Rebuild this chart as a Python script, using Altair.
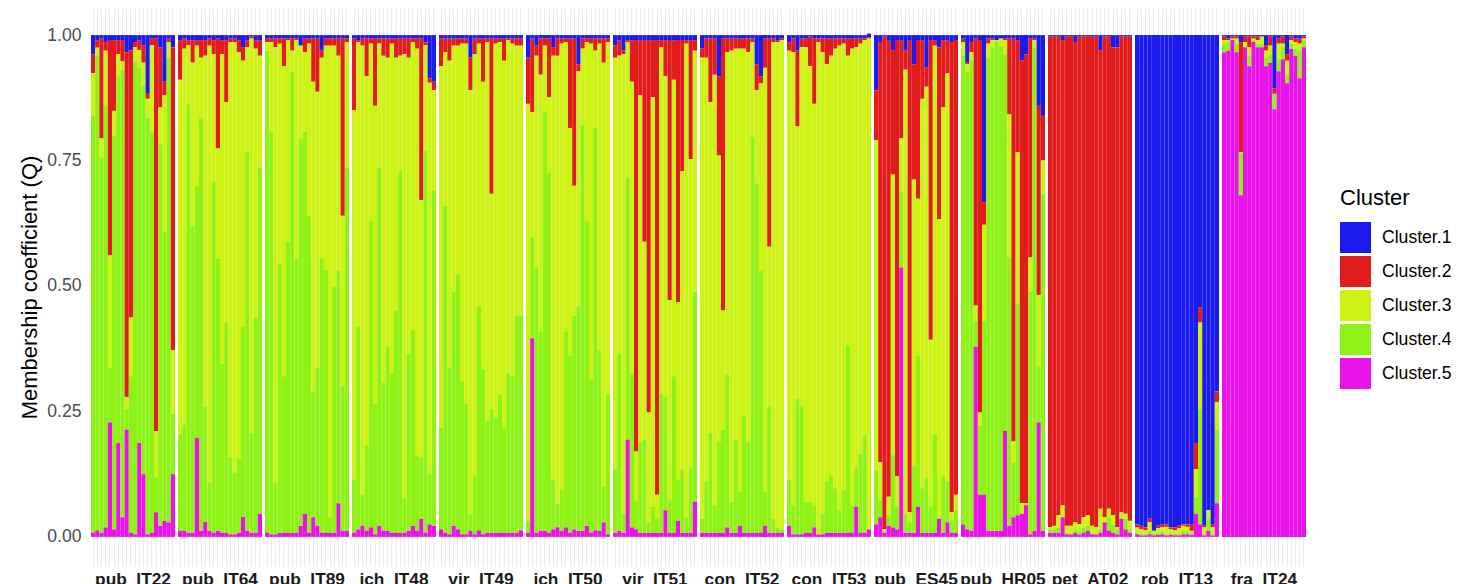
import altair as alt
import pandas as pd
import numpy as np

populations = ["pub_IT22", "pub_IT64", "pub_IT89", "ich_IT48", "vir_IT49", "ich_IT50", "vir_IT51",
               "con_IT52", "con_IT53", "pub_ES45", "pub_HR05", "pet_AT02", "rob_IT13", "fra_IT24"]
clusters = ["Cluster.1", "Cluster.2", "Cluster.3", "Cluster.4", "Cluster.5"]
cluster_colors = ["#1b1bf0", "#e01c1c", "#cdf216", "#8ef216", "#e813e8"]
inds_per_pop = 20

# Cumulative membership (stack from the bottom: Cluster.5, .4, .3, .2, .1)
# top of Cluster.2 (= 1 - Q1)
top_c2 = [
    .962, .99, .993, .986, .99, .99, .99, .99, .966, .97, .986, .99, .979, .883, .993, .993, .976, .907, .993, .976,   # pub_IT22
    .99, .993, .99, .99, .99, .99, .99, .993, .99, .993, .99, .99, .993, .993, .99, .976, .99, .997, .99, .99,         # pub_IT64
    .993, .993, .993, .993, .993, .993, .993, .993, .979, .993, .993, .993, .993, .969, .993, .993, .993, .993, .993, .993,  # pub_IT89
    .993, .99, .993, .993, .993, .993, .993, .993, .993, .993, .993, .993, .993, .993, .993, .993, .993, .986, .914, .907,  # ich_IT48
    .993, .993, .993, .993, .993, .993, .993, .955, .993, .993, .993, .993, .993, .993, .993, .993, .993, .993, .993, .993,  # vir_IT49
    .955, .993, .979, .993, .993, .993, .976, .993, .993, .993, .993, .993, .942, .993, .993, .993, .993, .993, .993, .993,  # ich_IT50
    .979, .99, .969, .99, .99, .99, .99, .99, .99, .99, .99, .99, .99, .99, .99, .99, .99, .99, .99, .99,                  # vir_IT51
    .973, .993, .993, .993, .918, .993, .993, .993, .993, .993, .993, .993, .993, .942, .918, .993, .993, .993, .99, .993,  # con_IT52
    .986, .993, .969, .993, .993, .997, .993, .993, .993, .993, .993, .993, .993, .993, .993, .993, .993, .993, .993, .993,  # con_IT53
    .89, .986, .997, .99, .969, .99, .99, .969, .99, .942, .99, .99, .935, .99, .99, .976, .99, .99, .986, .99,          # pub_ES45
    .993, .945, .986, .993, .99, .667, .993, .993, .99, .993, .993, .993, .993, .99, .949, .962, .993, .993, .859, .839,  # pub_HR05
    .997, .997, .997, .99, .997, .997, .986, .997, .997, .997, .997, .997, .969, .997, .997, .976, .976, .997, .997, .997,  # pet_AT02
    .025, .022, .019, .036, .012, .022, .024, .025, .019, .019, .022, .025, .025, .024, .187, .458, .022, .053, .024, .29,  # rob_IT13
    .997, .993, .997, .997, .986, .997, .997, .997, .997, .997, .979, .997, .894, .993, .997, .962, .997, .993, .993, .997,  # fra_IT24
]
# top of Cluster.3
top_c3 = [
    .924, .975, .794, .969, .561, .849, .962, .948, .279, .437, .976, .97, .945, .873, .98, .211, .856, .88, .986, .372,
    .911, .973, .98, .945, .979, .955, .959, .979, .962, .774, .962, .866, .986, .986, .966, .949, .976, .993, .973, .959,
    .986, .986, .976, .983, .938, .99, .969, .99, .979, .966, .983, .907, .887, .955, .979, .979, .979, .959, .64, .986,
    .85, .986, .979, .918, .983, .859, .983, .959, .955, .983, .955, .959, .962, .955, .986, .973, .671, .98, .905, .89,
    .938, .966, .949, .979, .979, .983, .983, .89, .962, .983, .907, .986, .684, .983, .986, .949, .99, .983, .979, .979,
    .863, .846, .959, .921, .979, .876, .959, .959, .983, .986, .815, .70, .928, .973, .986, .983, .969, .983, .945, .986,
    .955, .959, .962, .986, .907, .17, .88, .588, .248, .876, .084, .976, .918, .472, .911, .468, .729, .983, .753, .969,
    .955, .955, .866, .921, .76, .451, .966, .969, .973, .973, .973, .966, .986, .89, .904, .935, .578, .986, .986, .99,
    .969, .966, .818, .976, .976, .938, .863, .986, .966, .942, .959, .973, .979, .983, .959, .973, .976, .983, .99, .99,
    .791, .149, .015, .08, .722, .121, .794, .931, .049, .712, .674, .873, .897, .393, .979, .633, .856, .924, .049, .084,
    .986, .942, .966, .461, .248, .622, .983, .99, .99, .993, .99, .842, .19, .767, .067, .067, .557, .99, .482, .75,
    .019, .022, .043, .063, .022, .022, .029, .025, .039, .043, .022, .019, .056, .039, .056, .043, .019, .049, .046, .032,
    .019, .015, .013, .029, .012, .017, .019, .02, .015, .013, .017, .022, .02, .012, .135, .427, .019, .053, .019, .269,
    .99, .99, .993, .993, .767, .986, .976, .993, .99, .997, .969, .979, .883, .983, .983, .949, .99, .986, .983, .993,
]
# top of Cluster.4
top_c4 = [
    .839, .96, .756, .859, .338, .80, .918, .931, .255, .32, .948, .935, .90, .835, .808, .12, .784, .609, .955, .245,
    .204, .224, .863, .619, .70, .835, .259, .108, .708, .554, .345, .427, .159, .128, .156, .42, .767, .207, .437, .736,
    .969, .808, .108, .544, .32, .588, .928, .554, .794, .808, .64, .29, .338, .554, .533, .039, .499, .53, .30, .736,
    .115, .42, .084, .183, .63, .266, .736, .307, .379, .327, .451, .729, .077, .365, .413, .163, .159, .77, .125, .691,
    .218, .66, .338, .489, .523, .31, .266, .046, .121, .458, .334, .231, .255, .238, .283, .218, .327, .32, .441, .441,
    .032, .598, .537, .41, .846, .725, .115, .067, .095, .41, .362, .441, .458, .822, .63, .314, .815, .372, .101, .283,
    .135, .365, .046, .715, .327, .073, .19, .194, .029, .06, .039, .286, .28, .073, .32, .115, .135, .039, .139, .489,
    .036, .111, .207, .063, .19, .214, .324, .07, .194, .091, .242, .19, .798, .705, .53, .091, .259, .036, .019, .015,
    .115, .063, .276, .262, .07, .07, .063, .005, .046, .111, .121, .097, .053, .094, .382, .063, .139, .166, .204, .012,
    .132, .073, .012, .043, .163, .06, .688, .046, .029, .142, .362, .097, .118, .06, .204, .039, .121, .111, .032, .053,
    .959, .928, .95, .43, .221, .43, .955, .976, .986, .979, .962, .557, .149, .465, .046, .063, .489, .976, .341, .684,
    .015, .015, .019, .039, .008, .005, .015, .012, .019, .022, .008, .005, .015, .029, .039, .025, .015, .039, .036, .015,
    .008, .006, .006, .012, .006, .008, .012, .005, .008, .006, .005, .012, .012, .008, .08, .255, .005, .036, .005, .214,
    .983, .986, .99, .983, .765, .976, .959, .99, .983, .983, .955, .962, .883, .952, .976, .921, .983, .973, .969, .99,
]
# top of Cluster.5 (= Q5)
top_c5 = [
    .008, .013, .008, .019, .228, .015, .187, .039, .214, .008, .005, .187, .125, .005, .008, .049, .022, .032, .029, .125,
    .012, .012, .008, .008, .197, .012, .03, .012, .008, .012, .008, .008, .005, .005, .008, .04, .012, .008, .008, .046,
    .008, .005, .005, .008, .008, .008, .008, .008, .022, .046, .008, .039, .022, .008, .008, .008, .008, .067, .012, .012,
    .008, .015, .022, .012, .019, .005, .022, .012, .012, .008, .008, .008, .008, .012, .022, .012, .036, .008, .025, .022,
    .015, .008, .005, .022, .015, .005, .005, .012, .005, .013, .005, .008, .008, .008, .008, .008, .008, .008, .008, .013,
    .008, .396, .008, .012, .012, .008, .015, .019, .012, .019, .008, .015, .012, .012, .022, .008, .013, .012, .029, .005,
    .008, .012, .008, .194, .019, .015, .008, .008, .008, .008, .008, .008, .053, .008, .008, .032, .008, .008, .008, .07,
    .008, .008, .008, .008, .008, .008, .019, .008, .008, .022, .008, .008, .008, .008, .008, .022, .008, .008, .008, .008,
    .022, .005, .005, .005, .008, .008, .019, .005, .005, .008, .008, .008, .008, .008, .008, .008, .06, .008, .008, .015,
    .025, .039, .008, .022, .019, .015, .537, .008, .008, .008, .06, .008, .008, .008, .008, .036, .008, .029, .008, .008,
    .025, .015, .012, .379, .084, .084, .012, .012, .012, .012, .211, .022, .039, .043, .046, .063, .005, .012, .228, .012,
    .008, .008, .008, .039, .005, .005, .008, .005, .008, .012, .005, .005, .008, .029, .012, .008, .005, .036, .015, .008,
    .005, .003, .003, .005, .003, .004, .005, .003, .004, .003, .003, .005, .005, .004, .046, .025, .003, .012, .003, .067,
    .966, .969, .99, .966, .681, .976, .938, .986, .976, .976, .938, .945, .852, .928, .952, .904, .973, .959, .914, .976,
]

t2, t3, t4, t5 = (np.array(a) for a in (top_c2, top_c3, top_c4, top_c5))
q = {
    "Cluster.1": 1 - t2,
    "Cluster.2": t2 - t3,
    "Cluster.3": t3 - t4,
    "Cluster.4": t4 - t5,
    "Cluster.5": t5,
}

rows = []
for i in range(len(top_c2)):
    pop = populations[i // inds_per_pop]
    ind = f"{pop}_{i % inds_per_pop + 1:02d}"
    for k, c in enumerate(clusters):
        rows.append({"pop": pop, "ind": ind, "idx": i, "Cluster": c,
                     "Q": max(float(q[c][i]), 0.0), "stack_rank": 4 - k})
df = pd.DataFrame(rows)

bars = alt.Chart(df).mark_bar().encode(
    x=alt.X("ind:N", sort=alt.EncodingSortField(field="idx", order="ascending"),
            scale=alt.Scale(paddingInner=0, paddingOuter=0),
            axis=alt.Axis(title=None, labels=False, ticks=False, domain=False, grid=True,
                          gridColor="#ebebeb", gridWidth=1, bandPosition=0.5)),
    y=alt.Y("Q:Q", stack="zero",
            scale=alt.Scale(domain=[-0.058, 1.054], nice=False, zero=False),
            axis=alt.Axis(title="Membership coefficient (Q)", values=[0, 0.25, 0.5, 0.75, 1.0],
                          format=".2f", grid=False, ticks=False, domain=False,
                          labelPadding=10, labelFontSize=17.6, labelColor="#4d4d4d",
                          titleFontSize=22, titleFontWeight="normal", titleColor="#000000",
                          titlePadding=5)),
    color=alt.Color("Cluster:N", scale=alt.Scale(domain=clusters, range=cluster_colors),
                    legend=alt.Legend(title="Cluster", orient="none", legendX=1249, legendY=180,
                                      symbolType="square", symbolSize=961, symbolStrokeWidth=0,
                                      symbolOpacity=1, labelFontSize=17.6, labelColor="#000000",
                                      titleFontSize=22, titleFontWeight="normal", titleColor="#000000",
                                      titlePadding=12, labelOffset=11, rowPadding=3)),
    order=alt.Order("stack_rank:Q", sort="ascending"),
).properties(width=84, height=558)

chart = bars.facet(
    column=alt.Column("pop:N", sort=populations, title=None,
                      header=alt.Header(labelOrient="bottom", labelFontSize=17.3,
                                        labelFontWeight="bold", labelColor="#1a1a1a",
                                        labelPadding=5)),
    spacing=3,
).resolve_scale(x="independent").properties(
    padding={"left": 10, "top": 0, "right": 0, "bottom": 0}
).configure(font="Liberation Sans").configure_view(stroke=None)

chart.save("out.html", embed_options={"renderer": "svg", "actions": False})
